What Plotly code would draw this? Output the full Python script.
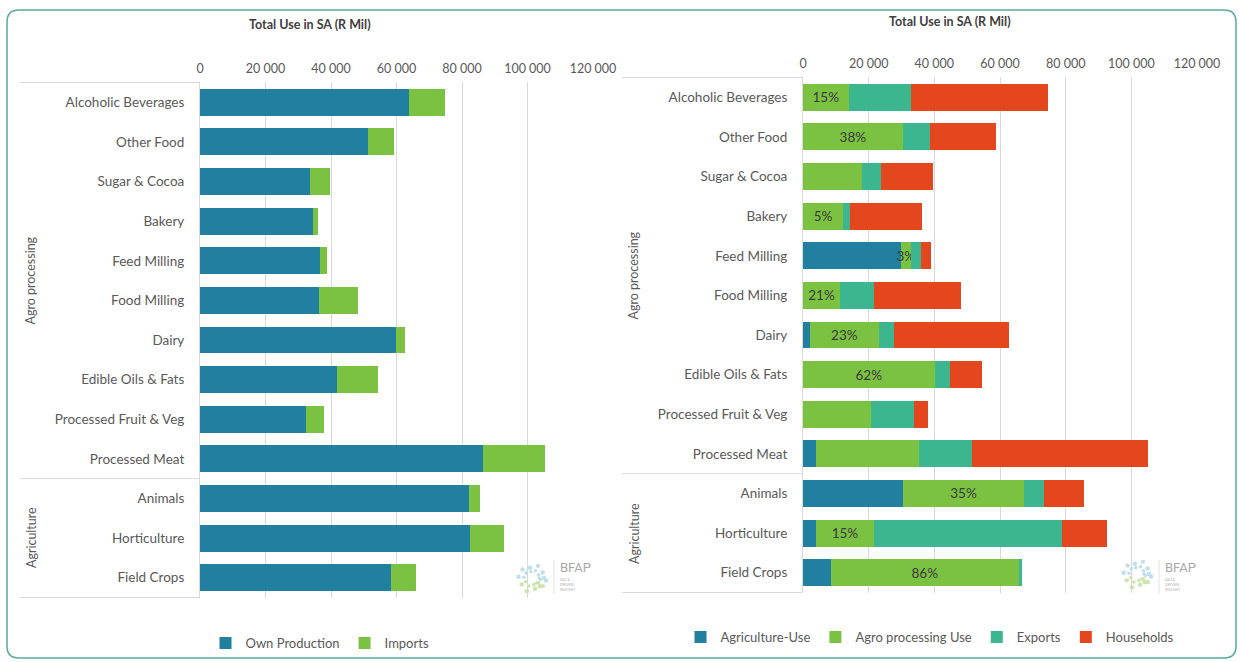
import math
import plotly.graph_objects as go

# ---------------- data ----------------
categories = ["Alcoholic Beverages", "Other Food", "Sugar & Cocoa", "Bakery", "Feed Milling",
              "Food Milling", "Dairy", "Edible Oils & Fats", "Processed Fruit & Veg",
              "Processed Meat", "Animals", "Horticulture", "Field Crops"]
groups = ["Agro processing"] * 10 + ["Agriculture"] * 3

own_production = [63700, 51300, 33500, 34400, 36700, 36300, 59900, 41800, 32500, 86300, 82200, 82500, 58400]
imports = [11000, 7800, 6200, 1700, 2200, 11900, 2700, 12700, 5500, 19000, 3400, 10400, 7700]

agriculture_use = [0, 0, 0, 0, 29900, 0, 2200, 0, 0, 4000, 30500, 3900, 8400]
agro_processing_use = [13900, 30400, 18100, 12300, 2900, 11300, 20800, 40100, 20700, 31400, 36800, 17800, 57400]
exports = [18900, 8300, 5800, 2000, 3100, 10300, 4700, 4700, 13200, 16000, 6100, 57100, 1000]
households = [41800, 20100, 15800, 22000, 3000, 26500, 35000, 9700, 4200, 53700, 12200, 13900, 0]
agro_share_labels = ["15%", "38%", "", "5%", "3%", "21%", "23%", "62%", "", "", "35%", "15%", "86%"]

x_ticks = [0, 20000, 40000, 60000, 80000, 100000, 120000]
axis_title = "Total Use in SA (R Mil)"

# ---------------- style ----------------
W, H = 1240, 662
BLUE = "#21809f"
GREEN = "#7cc242"
TEAL = "#3cb68e"
ORANGE = "#e4461d"
GRID = "#d9d9d9"
TXT = "#595959"
FONT = "Lato"

def px(x):
    return x / W

def py(y):
    return 1 - y / H

fig = go.Figure()

bar_common = dict(orientation="h", y=categories)
fig.add_trace(go.Bar(x=own_production, name="Own Production", marker_color=BLUE,
                     xaxis="x", yaxis="y", legend="legend", **bar_common))
fig.add_trace(go.Bar(x=imports, name="Imports", marker_color=GREEN,
                     xaxis="x", yaxis="y", legend="legend", **bar_common))

fig.add_trace(go.Bar(x=agriculture_use, name="Agriculture-Use", marker_color=BLUE,
                     xaxis="x2", yaxis="y2", legend="legend2", **bar_common))
fig.add_trace(go.Bar(x=agro_processing_use, name="Agro processing Use", marker_color=GREEN,
                     text=agro_share_labels, textposition="inside", insidetextanchor="middle",
                     constraintext="none", textangle=0,
                     textfont=dict(family=FONT, size=13.5, color="#3a3a3a"),
                     xaxis="x2", yaxis="y2", legend="legend2", **bar_common))
fig.add_trace(go.Bar(x=exports, name="Exports", marker_color=TEAL,
                     xaxis="x2", yaxis="y2", legend="legend2", **bar_common))
fig.add_trace(go.Bar(x=households, name="Households", marker_color=ORANGE,
                     xaxis="x2", yaxis="y2", legend="legend2", **bar_common))

for tr in fig.data:
    tr.marker.line.width = 0

xaxis_common = dict(range=[0, 120000], tickvals=x_ticks, tickformat=",", side="top",
                    showgrid=True, gridcolor=GRID, gridwidth=1, zeroline=False,
                    showline=False, ticks="", ticklabelstandoff=6, automargin=False,
                    tickfont=dict(family=FONT, size=12.5, color=TXT), fixedrange=True)
yaxis_common = dict(type="category", autorange="reversed", showgrid=False, zeroline=False,
                    showline=True, linecolor=GRID, linewidth=1, ticks="",
                    ticklabelstandoff=12, automargin=False,
                    tickfont=dict(family=FONT, size=13.5, color=TXT), fixedrange=True)

left_dom_x = [px(200), px(593)]
left_dom_y = [py(598), py(82)]
right_dom_x = [px(803), px(1197)]
right_dom_y = [py(593), py(77)]

shapes = []
annotations = []

# separators for the grouped (two-level) category axis
group_bounds = [-0.5]
for i in range(1, len(groups)):
    if groups[i] != groups[i - 1]:
        group_bounds.append(i - 0.5)
group_bounds.append(len(groups) - 0.5)

for yref, x0, x1, lab_x in [("y", px(20), px(200), px(31)), ("y2", px(622), px(803), px(634))]:
    for b in group_bounds:
        shapes.append(dict(type="line", xref="paper", yref=yref, x0=x0, x1=x1, y0=b, y1=b,
                           line=dict(color=GRID, width=1)))
    # group labels
    start = 0
    for i in range(1, len(groups) + 1):
        if i == len(groups) or groups[i] != groups[start]:
            mid = (start + i - 1) / 2
            annotations.append(dict(text=groups[start], xref="paper", yref=yref, x=lab_x, y=mid,
                                    textangle=-90, showarrow=False, xanchor="center", yanchor="middle",
                                    font=dict(family=FONT, size=12.5, color=TXT)))
            start = i

# chart titles
annotations.append(dict(text="<b>" + axis_title + "</b>", xref="paper", yref="paper",
                        x=px(310), y=py(24), showarrow=False, xanchor="center", yanchor="middle",
                        font=dict(family=FONT, size=12.5, color="#404040")))
annotations.append(dict(text="<b>" + axis_title + "</b>", xref="paper", yref="paper",
                        x=px(950), y=py(21), showarrow=False, xanchor="center", yanchor="middle",
                        font=dict(family=FONT, size=12.5, color="#404040")))

# BFAP logo (decorative)
for cx, cy, tx in [(532, 578, 558), (1137, 574, 1163)]:
    ring = [(0, 0.8), (30, 0.9), (60, 0.75), (90, 0.95), (120, 0.8), (150, 0.9), (180, 0.85),
            (210, 0.7), (240, 0.9), (270, 0.8), (300, 0.95), (330, 0.75)]
    for k, (ang, rr) in enumerate(ring):
        for rad, sz in [(15 * rr, 2.2), (9 * rr, 1.8)]:
            ddx = cx + rad * math.cos(math.radians(ang + k * 7))
            ddy = cy + rad * math.sin(math.radians(ang + k * 7))
            col = "#b9dcea" if ddy < cy + 3 else "#c6e2a4"
            shapes.append(dict(type="circle", xref="paper", yref="paper",
                               x0=px(ddx - sz), x1=px(ddx + sz), y0=py(ddy + sz), y1=py(ddy - sz),
                               fillcolor=col, line=dict(width=0), opacity=0.9))
    shapes.append(dict(type="line", xref="paper", yref="paper", x0=px(tx - 4), x1=px(tx - 4),
                       y0=py(560), y1=py(594), line=dict(color="#e3e3e3", width=1)))
    annotations.append(dict(text="BFAP", xref="paper", yref="paper", x=px(tx), y=py(567),
                            xanchor="left", yanchor="middle", showarrow=False,
                            font=dict(family="Roboto", size=13, color="#a9a9a9")))
    annotations.append(dict(text="DATA<br>DRIVEN<br>INSIGHT", xref="paper", yref="paper",
                            x=px(tx), y=py(584), xanchor="left", yanchor="middle", showarrow=False,
                            align="left", font=dict(family="Roboto", size=4, color="#b5b5b5")))

# outer rounded border
r = 12
x0b, y0b, x1b, y1b = 7, 10, 1236, 658
path = (f"M {x0b + r},{y0b} L {x1b - r},{y0b} Q {x1b},{y0b} {x1b},{y0b + r} "
        f"L {x1b},{y1b - r} Q {x1b},{y1b} {x1b - r},{y1b} L {x0b + r},{y1b} "
        f"Q {x0b},{y1b} {x0b},{y1b - r} L {x0b},{y0b + r} Q {x0b},{y0b} {x0b + r},{y0b} Z")

def path_to_paper(p):
    out = []
    for tok in p.split(" "):
        if "," in tok:
            a, b = tok.split(",")
            out.append(f"{px(float(a)):.5f},{py(float(b)):.5f}")
        else:
            out.append(tok)
    return " ".join(out)

shapes.append(dict(type="path", xref="paper", yref="paper", path=path_to_paper(path),
                   line=dict(color="#56aa9c", width=1.5), fillcolor="rgba(0,0,0,0)", layer="above"))

legend_font = dict(family=FONT, size=13, color=TXT)

fig.update_layout(
    width=W, height=H, autosize=False,
    margin=dict(l=0, r=0, t=0, b=0, pad=0, autoexpand=False),
    paper_bgcolor="white", plot_bgcolor="white",
    barmode="stack", bargap=0.32,
    separators=". ",
    font=dict(family=FONT, color=TXT),
    xaxis=dict(domain=left_dom_x, anchor="y", **xaxis_common),
    yaxis=dict(domain=left_dom_y, anchor="x", **yaxis_common),
    xaxis2=dict(domain=right_dom_x, anchor="y2", **xaxis_common),
    yaxis2=dict(domain=right_dom_y, anchor="x2", **yaxis_common),
    legend=dict(orientation="h", xref="container", yref="container", x=px(320), y=py(643),
                xanchor="center", yanchor="middle",
                font=legend_font, itemwidth=30, traceorder="normal", bgcolor="rgba(0,0,0,0)"),
    legend2=dict(orientation="h", xref="container", yref="container", x=px(930), y=py(637),
                 xanchor="center", yanchor="middle",
                 font=legend_font, itemwidth=30, traceorder="normal", bgcolor="rgba(0,0,0,0)"),
    shapes=shapes,
    annotations=annotations,
    showlegend=True,
)

fig.write_html(
    "out.html",
    config={"displayModeBar": False, "responsive": False},
    post_script="document.body.style.margin='0';document.body.style.overflow='hidden';",
)
